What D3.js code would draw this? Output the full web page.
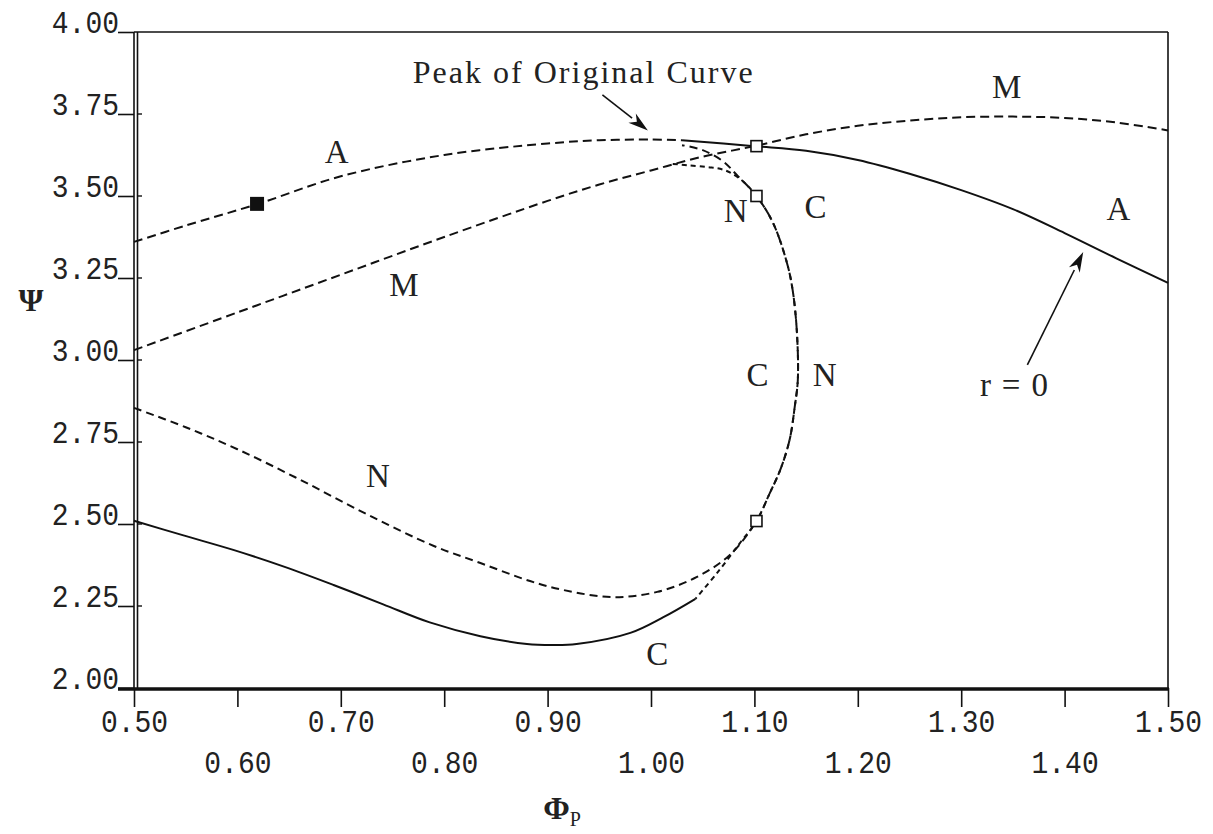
<!DOCTYPE html>
<html>
<head>
<meta charset="utf-8">
<script src="https://cdn.jsdelivr.net/npm/d3@7"></script>
<style>
  body { margin: 0; background: #fff; }
  svg { display: block; }
</style>
</head>
<body>
<svg id="chart" width="1213" height="834"></svg>
<script>
// Axis ticks
const xTicks = [0.50, 0.60, 0.70, 0.80, 0.90, 1.00, 1.10, 1.20, 1.30, 1.40, 1.50];
const yTicks = [2.00, 2.25, 2.50, 2.75, 3.00, 3.25, 3.50, 3.75, 4.00];

// Curve A (original characteristic), dashed up to the peak, solid beyond
const aPhi = [0.50, 0.55, 0.62, 0.70, 0.80, 0.90, 0.95, 1.00, 1.03, 1.10, 1.15, 1.20, 1.25, 1.30, 1.35, 1.40, 1.45, 1.50];
const aPsi = [3.36, 3.41, 3.476, 3.56, 3.625, 3.66, 3.67, 3.672, 3.67, 3.652, 3.638, 3.61, 3.568, 3.518, 3.46, 3.387, 3.31, 3.235];
const aSolidFrom = 1.03;

// Curve M
const mPhi = [0.50, 0.60, 0.70, 0.80, 0.90, 0.95, 1.00, 1.05, 1.10, 1.15, 1.20, 1.25, 1.30, 1.35, 1.40, 1.45, 1.50];
const mPsi = [3.03, 3.145, 3.26, 3.375, 3.485, 3.535, 3.578, 3.62, 3.652, 3.688, 3.714, 3.73, 3.74, 3.742, 3.738, 3.724, 3.70];

// Curve N (loops back through the turning points)
const nPhi = [0.50, 0.55, 0.60, 0.66, 0.725, 0.79, 0.835, 0.883, 0.915, 0.963, 1.006, 1.044, 1.076, 1.102,
              1.115, 1.125, 1.134, 1.139, 1.142, 1.141, 1.137, 1.1315, 1.118, 1.102, 1.083, 1.07, 1.05, 1.03];
const nPsi = [2.854, 2.795, 2.728, 2.636, 2.53, 2.433, 2.381, 2.326, 2.299, 2.277, 2.293, 2.338, 2.405, 2.509,
              2.595, 2.665, 2.756, 2.857, 2.94, 3.09, 3.213, 3.296, 3.418, 3.50, 3.564, 3.605, 3.64, 3.655];

// Curve C, solid on the lower branch, dashed once it turns up
const cPhi = [0.50, 0.547, 0.596, 0.645, 0.693, 0.741, 0.786, 0.835, 0.88, 0.905, 0.928, 0.98, 1.012, 1.043,
              1.064, 1.086, 1.102, 1.115, 1.125, 1.134, 1.139, 1.142, 1.141, 1.137, 1.1315, 1.118,
              1.102, 1.085, 1.07, 1.055, 1.035, 1.02];
const cPsi = [2.51, 2.466, 2.421, 2.37, 2.314, 2.255, 2.20, 2.158, 2.134, 2.131, 2.134, 2.168, 2.216, 2.272,
              2.351, 2.442, 2.509, 2.595, 2.665, 2.756, 2.857, 2.94, 3.09, 3.213, 3.296, 3.418,
              3.50, 3.555, 3.58, 3.588, 3.594, 3.598];
const cSolidCount = 14;

// Marked operating points
const openPts = [[1.102, 3.652], [1.102, 3.50], [1.102, 2.509]];
const filledPts = [[0.619, 3.476]];

// Curve labels [text, phi, psi(baseline)]
const curveLabels = [
  ["A", 0.696, 3.60], ["M", 1.344, 3.80], ["A", 1.452, 3.427],
  ["N", 1.082, 3.42], ["C", 1.159, 3.433], ["M", 0.761, 3.195],
  ["C", 1.103, 2.921], ["N", 1.168, 2.921], ["N", 0.736, 2.613], ["C", 1.006, 2.07]
];

// Arrow annotations: [label, textPhi, textPsi, fromPhi, fromPsi, toPhi, toPsi]
const arrows = [
  ["Peak of Original Curve", 0.934, 3.845, 0.953, 3.808, 0.997, 3.70],
  ["r = 0", 1.351, 2.89, 1.364, 2.985, 1.418, 3.329]
];

const svg = d3.select("#chart");
const x = d3.scaleLinear().domain([0.5, 1.5]).range([134, 1168]);
const y = d3.scaleLinear().domain([2, 4]).range([688, 32]);
const ink = "#111";
const tickFont = "'Liberation Mono', 'DejaVu Sans Mono', monospace";
const serif = "'Liberation Serif', 'DejaVu Serif', serif";

// ---- axes ----
const yAxis = svg.append("g").attr("transform", `translate(${x(0.5)},0)`)
  .call(d3.axisLeft(y).tickValues(yTicks).tickSize(16).tickPadding(0).tickFormat(d3.format(".2f")));
yAxis.select(".domain").remove();
yAxis.selectAll(".tick line").attr("stroke", ink).attr("stroke-width", 1.6);
yAxis.selectAll(".tick text")
  .attr("x", -15).attr("dy", 0)
  .attr("transform", "scale(1,1.12)")
  .style("font-family", tickFont).style("font-size", "28px").attr("fill", "#222");

const xAxis = svg.append("g").attr("transform", `translate(0,${y(2)})`)
  .call(d3.axisBottom(x).tickValues(xTicks).tickSize(19).tickPadding(0).tickFormat(d3.format(".2f")));
xAxis.select(".domain").remove();
xAxis.selectAll(".tick line").attr("stroke", ink).attr("stroke-width", 1.6);
xAxis.selectAll(".tick text")
  .attr("dy", 0)
  .attr("y", (d, i) => (i % 2 === 0 ? 39 : 76))
  .attr("transform", "scale(1,1.12)")
  .style("font-family", tickFont).style("font-size", "28px").attr("fill", "#222");

// frame: thin top and right, double left, heavy bottom
const frame = svg.append("g").attr("stroke", ink).attr("fill", "none");
frame.append("line").attr("x1", x(0.5)).attr("x2", x(1.5)).attr("y1", y(4)).attr("y2", y(4)).attr("stroke-width", 1.6);
frame.append("line").attr("x1", x(1.5)).attr("x2", x(1.5)).attr("y1", y(4)).attr("y2", y(2)).attr("stroke-width", 1.6);
frame.append("line").attr("x1", x(0.5)).attr("x2", x(0.5)).attr("y1", y(4)).attr("y2", y(2)).attr("stroke-width", 1.6);
frame.append("line").attr("x1", x(0.5) + 3.5).attr("x2", x(0.5) + 3.5).attr("y1", y(4)).attr("y2", y(2)).attr("stroke-width", 1.6);
frame.append("line").attr("x1", x(0.5) - 16).attr("x2", x(1.5) + 1).attr("y1", y(2) + 1).attr("y2", y(2) + 1).attr("stroke-width", 3.5);
// short inner ticks on the left axis
frame.selectAll("line.inner").data(yTicks.slice(1, -1)).join("line").attr("class", "inner")
  .attr("x1", x(0.5) + 3).attr("x2", x(0.5) + 8)
  .attr("y1", d => y(d)).attr("y2", d => y(d)).attr("stroke-width", 1.4);

// ---- curves ----
const line = d3.line().x(d => x(d[0])).y(d => y(d[1])).curve(d3.curveCatmullRom.alpha(0.5));
const zip = (a, b) => a.map((v, i) => [v, b[i]]);
const plot = svg.append("g").attr("fill", "none").attr("stroke", ink).attr("stroke-width", 2);

const aPts = zip(aPhi, aPsi);
plot.append("path").attr("d", line(aPts.filter(p => p[0] <= aSolidFrom))).attr("stroke-dasharray", "9,5");
plot.append("path").attr("d", line(aPts.filter(p => p[0] >= aSolidFrom)));

plot.append("path").attr("d", line(zip(mPhi, mPsi))).attr("stroke-dasharray", "9,5");
plot.append("path").attr("d", line(zip(nPhi, nPsi))).attr("stroke-dasharray", "8,5");

const cPts = zip(cPhi, cPsi);
plot.append("path").attr("d", line(cPts.slice(0, cSolidCount)));
plot.append("path").attr("d", line(cPts.slice(cSolidCount - 1))).attr("stroke-dasharray", "5,4").attr("stroke-dashoffset", 3);

// ---- markers ----
svg.append("g").selectAll("rect").data(openPts).join("rect")
  .attr("x", d => x(d[0]) - 5.5).attr("y", d => y(d[1]) - 5.5)
  .attr("width", 11).attr("height", 11)
  .attr("fill", "#fff").attr("stroke", ink).attr("stroke-width", 1.6);
svg.append("g").selectAll("rect").data(filledPts).join("rect")
  .attr("x", d => x(d[0]) - 7).attr("y", d => y(d[1]) - 7)
  .attr("width", 14).attr("height", 14).attr("fill", ink);

// ---- labels ----
svg.append("g").selectAll("text").data(curveLabels).join("text")
  .attr("x", d => x(d[1])).attr("y", d => y(d[2]))
  .attr("text-anchor", "middle")
  .style("font-family", serif).style("font-size", "33px").attr("fill", "#222")
  .text(d => d[0]);

// ---- arrows ----
const ann = svg.append("g");
arrows.forEach(([label, tx, ty, fx, fy, ex, ey]) => {
  const x1 = x(fx), y1 = y(fy), x2 = x(ex), y2 = y(ey);
  const ang = Math.atan2(y2 - y1, x2 - x1);
  const L = 20, W = 6;
  const bx = x2 - L * Math.cos(ang), by = y2 - L * Math.sin(ang);
  ann.append("line").attr("x1", x1).attr("y1", y1).attr("x2", bx).attr("y2", by)
    .attr("stroke", ink).attr("stroke-width", 1.6);
  const px = -Math.sin(ang) * W, py = Math.cos(ang) * W;
  ann.append("path")
    .attr("d", `M${x2},${y2}L${bx + px},${by + py}L${bx + 0.3 * (x2 - bx)},${by + 0.3 * (y2 - by)}L${bx - px},${by - py}Z`)
    .attr("fill", ink);
  const long = label.length > 6;
  ann.append("text").attr("x", x(tx)).attr("y", y(ty)).attr("text-anchor", "middle")
    .attr("textLength", long ? 340 : 68).attr("lengthAdjust", "spacing")
    .style("font-family", serif).style("font-size", long ? "32px" : "33px").attr("fill", "#222")
    .text(label);
});

// ---- axis titles ----
svg.append("text").attr("x", 31).attr("y", 311).attr("text-anchor", "middle")
  .style("font-family", serif).style("font-size", "32px").style("font-weight", "bold").attr("fill", "#222")
  .text("Ψ");
const xt = svg.append("text").attr("x", 562).attr("y", 819).attr("text-anchor", "middle")
  .style("font-family", serif).style("font-size", "32px").style("font-weight", "bold").attr("fill", "#222");
xt.append("tspan").text("Φ");
xt.append("tspan").attr("dy", 7).style("font-size", "20px").style("font-weight", "normal").text("P");
</script>
</body>
</html>
